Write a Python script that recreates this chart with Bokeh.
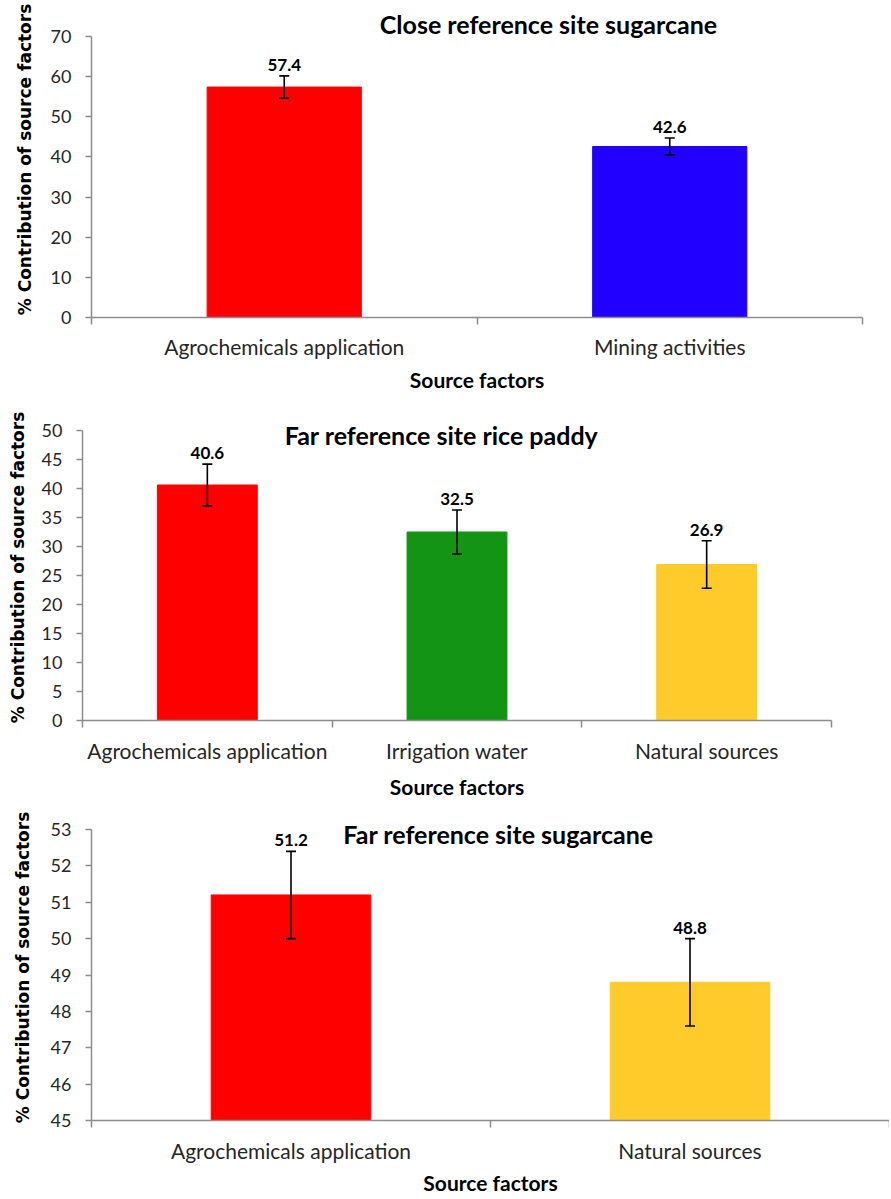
from bokeh.plotting import figure
from bokeh.models import ColumnDataSource, Range1d, FixedTicker, Whisker, TeeHead, Label, LabelSet
from bokeh.core.properties import value
from bokeh.embed import file_html
from bokeh.resources import INLINE

# ---- data ----
close_title = "Close reference site sugarcane"
close_cats = ["Agrochemicals application", "Mining activities"]
close_vals = [57.4, 42.6]
close_errs = [2.8, 2.1]
close_colors = ["#ff0000", "#2200ff"]
close_yticks = [0, 10, 20, 30, 40, 50, 60, 70]

rice_title = "Far reference site rice paddy"
rice_cats = ["Agrochemicals application", "Irrigation water", "Natural sources"]
rice_vals = [40.6, 32.5, 26.9]
rice_errs = [3.6, 3.8, 4.1]
rice_colors = ["#ff0000", "#149414", "#ffcb2b"]
rice_yticks = [0, 5, 10, 15, 20, 25, 30, 35, 40, 45, 50]

far_title = "Far reference site sugarcane"
far_cats = ["Agrochemicals application", "Natural sources"]
far_vals = [51.2, 48.8]
far_errs = [1.2, 1.2]
far_colors = ["#ff0000", "#ffcb2b"]
far_yticks = [45, 46, 47, 48, 49, 50, 51, 52, 53]

AXIS_COLOR = "#8c8c8c"
TEXT_COLOR = "#262626"
PAGE_MARGIN = 0


def make_panel(title, cats, vals, errs, colors, yticks, geom):
    (fig_top, frame_top, tick_top, tick_bot, fig_bot,
     frame_left, frame_right, fig_right,
     title_px, title_py, s1, s2, ylab_standoff) = geom
    n = len(cats)
    xs = [i + 1 for i in range(n)]
    y0, y1 = yticks[0], yticks[-1]
    upp = (y1 - y0) / (tick_bot - tick_top)          # data units per pixel
    y_end = y1 + (tick_top - frame_top) * upp
    frame_w = frame_right - frame_left

    src = ColumnDataSource(dict(
        x=xs, top=vals, color=colors,
        upper=[v + e for v, e in zip(vals, errs)],
        lower=[v - e for v, e in zip(vals, errs)],
        label=[f"{v:.1f}" for v in vals],
    ))
    p = figure(title=None, frame_width=frame_w, frame_height=tick_bot - frame_top,
               output_backend="svg", toolbar_location=None,
               x_range=Range1d(0.5, n + 0.5), y_range=Range1d(y0, y_end),
               min_border_left=frame_left - PAGE_MARGIN,
               min_border_right=fig_right - frame_right,
               min_border_top=frame_top - fig_top,
               min_border_bottom=fig_bot - tick_bot)
    p.xgrid.visible = False
    p.ygrid.visible = False
    p.outline_line_color = None

    p.vbar(x="x", top="top", bottom=y0, width=0.4, fill_color="color",
           line_color="color", source=src)
    p.add_layout(Whisker(base="x", upper="upper", lower="lower", source=src,
                         level="overlay", line_color="black", line_width=1.6,
                         upper_head=TeeHead(size=10, line_color="black", line_width=1.6),
                         lower_head=TeeHead(size=10, line_color="black", line_width=1.6)))
    p.add_layout(LabelSet(x="x", y="upper", text="label", source=src, level="overlay",
                          text_align="center", text_baseline="bottom", y_offset=5,
                          text_font=value("Lato"), text_font_style="bold",
                          text_font_size="17px", text_color="black"))

    p.add_layout(Label(x=0.5 + (title_px - frame_left) / frame_w * n,
                       y=y1 + (tick_top - title_py) * upp,
                       text=title, text_align="center", level="overlay",
                       text_baseline="middle", text_font="Lato",
                       text_font_style="bold", text_font_size="25px",
                       text_color="black"))

    xa = p.xaxis[0]
    xa.ticker = FixedTicker(ticks=xs, minor_ticks=[i + 0.5 for i in range(n + 1)])
    xa.major_label_overrides = {x: c for x, c in zip(xs, cats)}
    xa.major_tick_out = 0
    xa.major_tick_in = 0
    xa.minor_tick_out = 7
    xa.minor_tick_in = 0
    xa.minor_tick_line_color = AXIS_COLOR
    xa.minor_tick_line_width = 1.5
    xa.axis_line_color = AXIS_COLOR
    xa.axis_line_width = 1.5
    xa.major_label_text_font = "Lato"
    xa.major_label_text_font_size = "21px"
    xa.major_label_text_color = TEXT_COLOR
    xa.major_label_standoff = s1
    xa.axis_label = "Source factors"
    xa.axis_label_text_font = "Lato"
    xa.axis_label_text_font_style = "bold"
    xa.axis_label_text_font_size = "21px"
    xa.axis_label_text_color = "black"
    xa.axis_label_standoff = s2

    ya = p.yaxis[0]
    ya.ticker = FixedTicker(ticks=yticks, minor_ticks=[])
    ya.bounds = (y0, y1)
    ya.major_tick_out = 6
    ya.major_tick_in = 0
    ya.major_tick_line_color = AXIS_COLOR
    ya.major_tick_line_width = 1.5
    ya.minor_tick_out = 0
    ya.minor_tick_in = 0
    ya.axis_line_color = AXIS_COLOR
    ya.axis_line_width = 1.5
    ya.major_label_text_font = "Lato"
    ya.major_label_text_font_size = "18px"
    ya.major_label_text_color = TEXT_COLOR
    ya.major_label_standoff = 14
    ya.axis_label = "% Contribution of source factors"
    ya.axis_label_text_font = "DejaVu Sans"
    ya.axis_label_text_font_style = "bold"
    ya.axis_label_text_font_size = "17px"
    ya.axis_label_text_color = "black"
    ya.axis_label_standoff = ylab_standoff
    return p


# geometry in page pixels:
# fig_top, frame_top, tick_top, tick_bot, fig_bot, frame_left, frame_right, fig_right,
# title_x, title_y, tick-label standoff, axis-label standoff, y-label standoff
p1 = make_panel(close_title, close_cats, close_vals, close_errs, close_colors, close_yticks,
                (0, 1, 36, 317, 396, 91, 862, 883, 548, 23, 9, 5, 13))
p2 = make_panel(rice_title, rice_cats, rice_vals, rice_errs, rice_colors, rice_yticks,
                (396, 414, 430, 720, 803, 82, 831, 883, 441, 434, 10, 8, 11))
p3 = make_panel(far_title, far_cats, far_vals, far_errs, far_colors, far_yticks,
                (803, 814, 829, 1120, 1199, 91, 889, 889, 498, 833, 10, 4, 15))

open("out.html", "w").write(file_html([p1, p2, p3], INLINE))
